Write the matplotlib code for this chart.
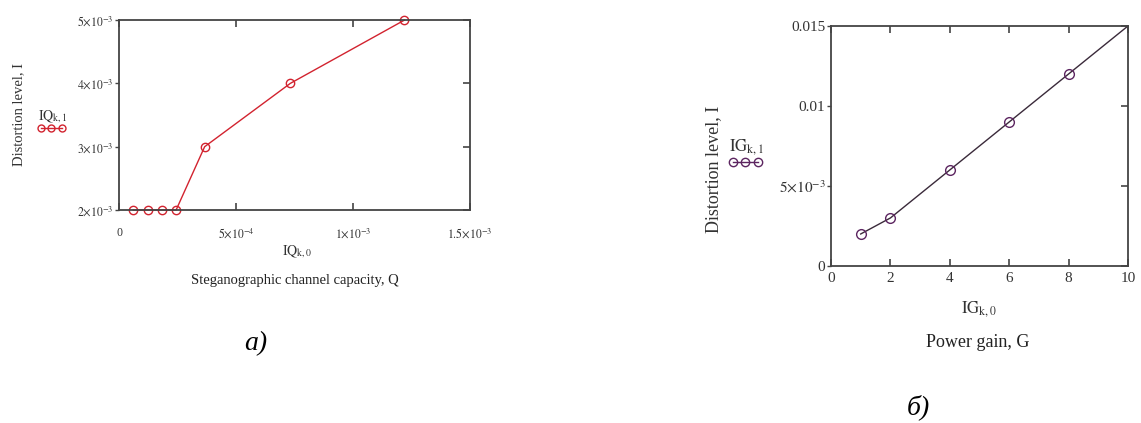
import matplotlib
matplotlib.use("Agg")
import matplotlib.pyplot as plt
from matplotlib.lines import Line2D
from matplotlib.ticker import FixedLocator, FixedFormatter, NullFormatter

plt.rcParams['font.family'] = ['Liberation Serif', 'DejaVu Serif']
plt.rcParams['mathtext.fontset'] = 'stix'

# capacity vs distortion
IQ0 = [6.1e-5, 1.22e-4, 1.83e-4, 2.44e-4, 3.66e-4, 7.32e-4, 1.22e-3]
IQ1 = [2e-3, 2e-3, 2e-3, 2e-3, 3e-3, 4e-3, 5e-3]
q_xticks = [0, 5e-4, 1e-3, 1.5e-3]
q_xlabels = ['0', r'$5{\times}10^{-4}$', r'$1{\times}10^{-3}$', r'$1.5{\times}10^{-3}$']
q_yticks = [2e-3, 3e-3, 4e-3, 5e-3]
q_ylabels = [r'$2{\times}10^{-3}$', r'$3{\times}10^{-3}$', r'$4{\times}10^{-3}$', r'$5{\times}10^{-3}$']

# power gain vs distortion
IG0 = [1, 2, 4, 6, 8, 10]
IG1 = [0.002, 0.003, 0.006, 0.009, 0.012, 0.015]
g_xticks = [0, 2, 4, 6, 8, 10]
g_xlabels = ['0', '2', '4', '6', '8', '10']
g_yticks = [0, 0.005, 0.01, 0.015]
g_ylabels = ['0', r'$5{\times}10^{-3}$', '0.01', '0.015']

red = '#d2232f'
purple = '#5c2560'
spine_c = '#444444'

fig = plt.figure(figsize=(11.41, 4.23), dpi=100)


def style_axes(ax, fs, yticks):
    for s in ax.spines.values():
        s.set_color(spine_c)
        s.set_linewidth(1.3)
    ax.tick_params(axis='x', which='both', direction='in', top=True, bottom=True,
                   length=5, width=1.2, color=spine_c, labelsize=fs)
    # short outward ticks on the left, inward ticks on the right
    ax.tick_params(axis='y', which='both', direction='out', left=True, right=False,
                   length=3, width=1.0, color=spine_c, labelsize=fs, pad=1)
    sec = ax.secondary_yaxis('right')
    sec.yaxis.set_major_locator(FixedLocator(yticks))
    sec.yaxis.set_major_formatter(NullFormatter())
    sec.tick_params(direction='in', length=5, width=1.2, color=spine_c)
    sec.spines['right'].set_visible(False)
    for t in ax.get_xticklabels() + ax.get_yticklabels():
        t.set_color('#333333')


# left panel
ax1 = fig.add_axes([0.1043, 0.5035, 0.3076, 0.449])
ax1.plot(IQ0, IQ1, '-', color=red, lw=1.0, marker='o', ms=6, mfc='none', mec=red, mew=1.0,
         clip_on=False)
ax1.set_xlim(0, 1.5e-3)
ax1.set_ylim(2e-3, 5e-3)
ax1.xaxis.set_major_locator(FixedLocator(q_xticks))
ax1.xaxis.set_major_formatter(FixedFormatter(q_xlabels))
ax1.yaxis.set_major_locator(FixedLocator(q_yticks))
ax1.yaxis.set_major_formatter(FixedFormatter(q_ylabels))
style_axes(ax1, 8.5, q_yticks)
ax1.tick_params(axis='x', pad=12)

fig.text(0.016, 0.73, 'Distortion level, I', rotation=90, ha='center', va='center',
         fontsize=10.5, color='#333333')
fig.text(0.046, 0.705, r'$\mathrm{IQ}_{\mathrm{k,1}}$', ha='center', va='bottom',
         fontsize=10, color='#333333')
fig.add_artist(Line2D([0.036, 0.045, 0.054], [0.697, 0.697, 0.697], color=red, lw=1.0,
                      marker='o', ms=5, mfc='none', mec=red, mew=1.0))
fig.text(0.26, 0.405, r'$\mathrm{IQ}_{\mathrm{k,0}}$', ha='center', va='center',
         fontsize=10, color='#333333')
fig.text(0.258, 0.338, 'Steganographic channel capacity, Q', ha='center', va='center',
         fontsize=10.5, color='#222222')
fig.text(0.224, 0.188, 'а)', ha='center', va='center', fontsize=20, color='black',
         style='italic')

# right panel
ax2 = fig.add_axes([0.7283, 0.3712, 0.2603, 0.5674])
ax2.plot(IG0, IG1, '-', color='#3a2a3a', lw=1.0)
ax2.plot(IG0[:-1], IG1[:-1], 'o', ms=7, mfc='none', mec=purple, mew=1.0)
ax2.set_xlim(0, 10)
ax2.set_ylim(0, 0.015)
ax2.xaxis.set_major_locator(FixedLocator(g_xticks))
ax2.xaxis.set_major_formatter(FixedFormatter(g_xlabels))
ax2.yaxis.set_major_locator(FixedLocator(g_yticks))
ax2.yaxis.set_major_formatter(FixedFormatter(g_ylabels))
style_axes(ax2, 11, g_yticks)
ax2.tick_params(axis='x', pad=4)

fig.text(0.625, 0.6, 'Distortion level, I', rotation=90, ha='center', va='center',
         fontsize=13, color='#333333')
fig.text(0.654, 0.63, r'$\mathrm{IG}_{\mathrm{k,1}}$', ha='center', va='bottom',
         fontsize=12, color='#333333')
fig.add_artist(Line2D([0.642, 0.653, 0.664], [0.618, 0.618, 0.618], color=purple, lw=1.0,
                      marker='o', ms=6, mfc='none', mec=purple, mew=1.0))
fig.text(0.858, 0.27, r'$\mathrm{IG}_{\mathrm{k,0}}$', ha='center', va='center',
         fontsize=12, color='#333333')
fig.text(0.857, 0.19, 'Power gain, G', ha='center', va='center',
         fontsize=13, color='#222222')
fig.text(0.805, 0.037, 'б)', ha='center', va='center', fontsize=20, color='black',
         style='italic')

fig.savefig('out.png', dpi=100)
